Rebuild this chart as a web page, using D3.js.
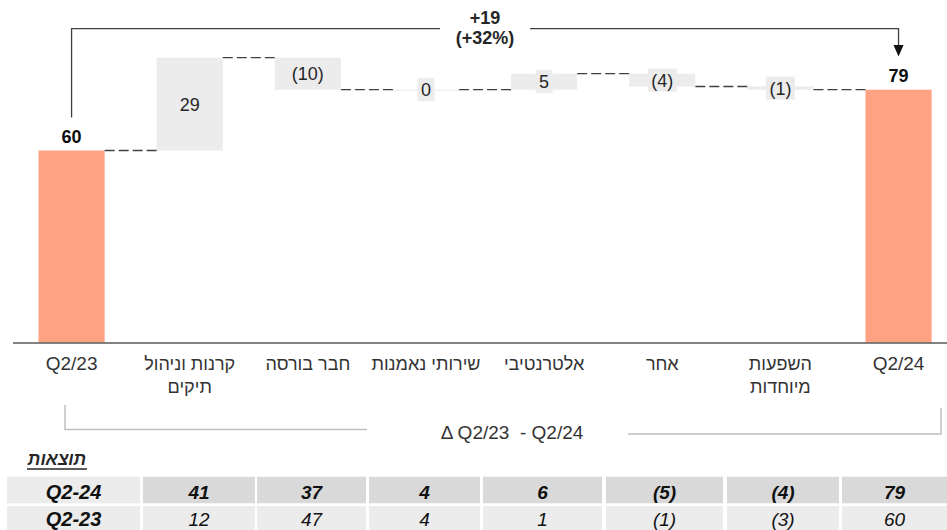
<!DOCTYPE html>
<html><head><meta charset="utf-8">
<script src="https://cdn.jsdelivr.net/npm/d3@7/dist/d3.min.js"></script>
<style>
body{margin:0;background:#fff;}
svg{display:block;font-family:"Liberation Sans",Arial,sans-serif;}
</style></head>
<body><svg id="c" width="947" height="530"></svg>
<script>
// ---------- DATA ----------
const categories = ["Q2/23", "קרנות וניהול|תיקים", "חבר בורסה", "שירותי נאמנות", "אלטרנטיבי", "אחר", "השפעות|מיוחדות", "Q2/24"];
const barValues = [60, 29, -10, 0, 5, -4, -1, 79];
const barKinds = ["total", "delta", "delta", "delta", "delta", "delta", "delta", "total"];
const changeLabel = ["+19", "(+32%)"];
const rangeLabel = "Δ Q2/23  - Q2/24";
const tableTitle = "תוצאות";
const tableRowLabels = ["Q2-24", "Q2-23"];
const tableQ224 = [41, 37, 4, 6, -5, -4, 79];
const tableQ223 = [12, 47, 4, 1, -1, -3, 60];

// ---------- LAYOUT ----------
const svg = d3.select("#c");
const fmt = v => v < 0 ? "(" + Math.abs(v) + ")" : String(v);
const totalColor = "#ffa284", deltaColor = "#ececec", dark = "#404040";

const x = d3.scaleBand().domain(categories).range([12.5, 957.6]).paddingInner(0.44).paddingOuter(0.22);
const y = d3.scaleLinear().domain([0, 100]).range([342.5, 22.5]);

// compute waterfall
let run = 0;
const bars = categories.map((c, i) => {
  let lo, hi, end;
  if (barKinds[i] === "total") { lo = 0; hi = barValues[i]; end = barValues[i]; }
  else { const s = run; end = s + barValues[i]; lo = Math.min(s, end); hi = Math.max(s, end); }
  run = end;
  return {c, v: barValues[i], kind: barKinds[i], lo, hi, end};
});

// bars
svg.append("g").selectAll("rect").data(bars).join("rect")
  .attr("x", d => x(d.c)).attr("width", x.bandwidth())
  .attr("y", d => y(d.hi))
  .attr("height", d => Math.max(1, y(d.lo) - y(d.hi)))
  .attr("fill", d => d.kind === "total" ? totalColor : deltaColor);

// connectors
svg.append("g").selectAll("line").data(bars.slice(0, -1)).join("line")
  .attr("x1", d => x(d.c) + x.bandwidth())
  .attr("x2", (d, i) => x(bars[i + 1].c))
  .attr("y1", d => y(d.end)).attr("y2", d => y(d.end))
  .attr("stroke", dark).attr("stroke-width", 1.3).attr("stroke-dasharray", "10,4");

// delta labels with bg boxes
const dl = svg.append("g").selectAll("g").data(bars.filter(d => d.kind === "delta")).join("g");
dl.append("text")
  .attr("x", d => x(d.c) + x.bandwidth() / 2)
  .attr("y", d => (y(d.lo) + y(d.hi)) / 2 + 6.5)
  .attr("text-anchor", "middle").attr("font-size", 18).attr("fill", "#262626")
  .text(d => fmt(d.v));
dl.each(function(d) {
  const g = d3.select(this), t = g.select("text"), bb = t.node().getBBox();
  const cy = (y(d.lo) + y(d.hi)) / 2;
  g.insert("rect", "text").attr("x", bb.x - 3.5).attr("width", bb.width + 7)
    .attr("y", cy - 11.5).attr("height", 23).attr("fill", deltaColor);
});

// total labels
svg.append("g").selectAll("text").data(bars.filter(d => d.kind === "total")).join("text")
  .attr("x", d => x(d.c) + x.bandwidth() / 2)
  .attr("y", d => y(d.hi) - 8)
  .attr("text-anchor", "middle").attr("font-size", 18).attr("font-weight", "bold").attr("fill", "#0d0d0d")
  .text(d => d.v);

// axis
const ax = svg.append("g").attr("transform", `translate(0,${y(0)})`)
  .call(d3.axisBottom(x).tickSize(0).tickPadding(0).tickFormat(""));
ax.select(".domain").attr("stroke", "#595959").attr("stroke-width", 1.5);
ax.selectAll(".tick text").remove();
ax.selectAll(".tick").append("text")
  .attr("text-anchor", "middle").attr("font-size", 18).attr("fill", "#333")
  .attr("font-family", "'Liberation Sans',Arial,sans-serif")
  .each(function(d) {
    const lines = d.split("|");
    d3.select(this).selectAll("tspan").data(lines).join("tspan")
      .attr("x", 0).attr("y", (l, i) => 27 + i * 23)
      .attr("font-size", l => /^Q/.test(l) ? 19 : 18).text(l => l);
  });

// top bracket
const xa = x(categories[0]) + x.bandwidth() / 2, xb = x(categories[categories.length - 1]) + x.bandwidth() / 2;
const ty = 28.7, mid = (xa + xb) / 2;
const br = svg.append("g").attr("fill", "none").attr("stroke", dark).attr("stroke-width", 1.3);
br.append("path").attr("d", `M${xa},${y(60) - 33}V${ty}H${mid - 45}`);
br.append("path").attr("d", `M${mid + 45},${ty}H${xb}V${46}`);
svg.append("path").attr("d", `M${xb - 5},45L${xb + 5},45L${xb},56.5Z`).attr("fill", "#111");
svg.append("g").selectAll("text").data(changeLabel).join("text")
  .attr("x", mid).attr("y", (d, i) => 24 + i * 20)
  .attr("text-anchor", "middle").attr("font-size", 18).attr("font-weight", "bold").attr("fill", "#262626")
  .text(d => d);

// bottom bracket
const lb = svg.append("g").attr("fill", "none").attr("stroke", "#bfbfbf").attr("stroke-width", 1.5);
lb.append("path").attr("d", `M65,405V429.5H367`);
lb.append("path").attr("d", `M628,434H941V408`);
svg.append("text").attr("x", 512).attr("y", 439).attr("text-anchor", "middle")
  .attr("font-size", 19).attr("fill", "#333").style("white-space", "pre").text(rangeLabel);

// table
svg.append("text").attr("x", 57).attr("y", 465).attr("text-anchor", "middle")
  .attr("font-size", 17.5).attr("font-weight", "bold").attr("font-style", "italic").attr("fill", "#262626")
  .text(tableTitle);
svg.append("line").attr("x1", 27).attr("x2", 87).attr("y1", 469).attr("y2", 469).attr("stroke", "#262626").attr("stroke-width", 1.3);

const colEdges = [[7,140],[143,255],[257,366],[369,480],[483,602],[606,723],[727,839],[842,947]];
const rowBands = [[476.7, 503.3], [506, 532]];
const tableRows = [[tableRowLabels[0], ...tableQ224.map(fmt)], [tableRowLabels[1], ...tableQ223.map(fmt)]];
tableRows.forEach((row, r) => {
  const g = svg.append("g");
  g.selectAll("rect").data(row).join("rect")
    .attr("x", (d, i) => colEdges[i][0]).attr("width", (d, i) => colEdges[i][1] - colEdges[i][0])
    .attr("y", rowBands[r][0]).attr("height", rowBands[r][1] - rowBands[r][0])
    .attr("fill", (d, i) => r === 0 && i > 0 ? "#d9d9d9" : "#ececec");
  g.selectAll("text").data(row).join("text")
    .attr("x", (d, i) => (colEdges[i][0] + colEdges[i][1]) / 2)
    .attr("y", r === 0 ? 499 : 526)
    .attr("text-anchor", "middle").attr("font-size", (d, i) => i === 0 ? 20 : 19).attr("font-style", "italic")
    .attr("font-weight", (d, i) => r === 0 || i === 0 ? "bold" : "normal")
    .attr("fill", "#111").text(d => d);
});
</script></body></html>
